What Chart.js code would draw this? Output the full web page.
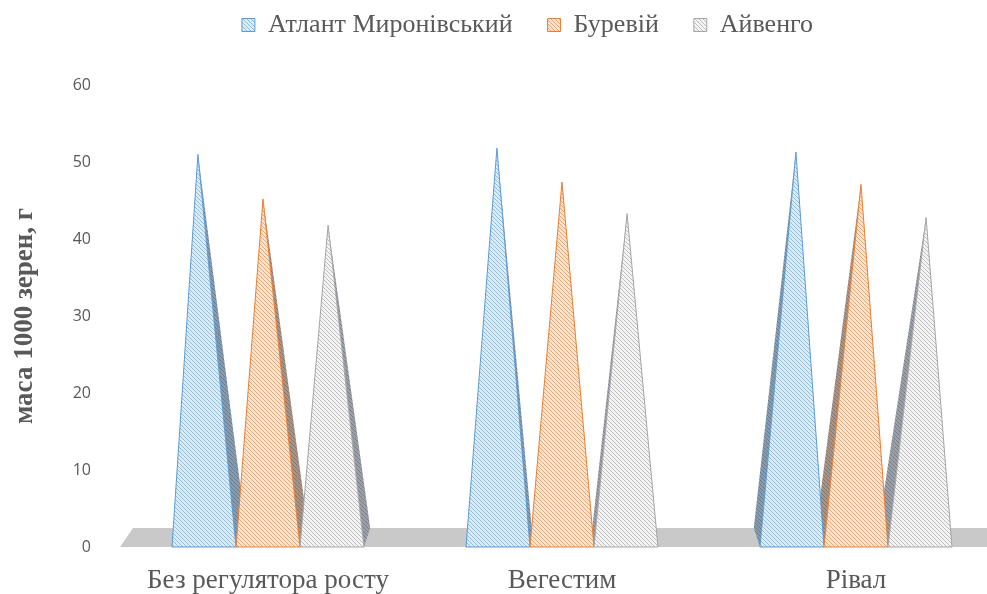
<!DOCTYPE html>
<html>
<head>
<meta charset="utf-8">
<script src="https://cdn.jsdelivr.net/npm/chart.js@4"></script>
<style>
  html, body { margin: 0; padding: 0; background: #fff; overflow: hidden; }
  #wrap { width: 1003px; height: 594px; }
</style>
</head>
<body>
<div id="wrap"><canvas id="chart" width="1003" height="594"></canvas></div>
<script>
// ── Data ────────────────────────────────────────────────────────────

const categories = ['Без регулятора росту', 'Вегестим', 'Рівал'];
const seriesNames = ['Атлант Миронівський', 'Буревій', 'Айвенго'];
const atlantValues = [51.0, 51.8, 51.3];
const burevijValues = [45.2, 47.4, 47.1];
const aivengoValues = [41.8, 43.3, 42.8];
const yMin = 0;
const yMax = 60;
const yStep = 10;

// ── Hatched fills (Excel "wide downward diagonal" look) ────────────

function makeHatch(bg, fg) {
  const c = document.createElement('canvas');
  c.width = c.height = 4;
  const g = c.getContext('2d');
  g.fillStyle = bg;
  g.fillRect(0, 0, 4, 4);
  g.strokeStyle = fg;
  g.lineWidth = 1;
  g.beginPath();
  g.moveTo(-1, -1); g.lineTo(5, 5);
  g.moveTo(-1, 3); g.lineTo(1, 5);
  g.moveTo(3, -1); g.lineTo(5, 1);
  g.stroke();
  return g.createPattern(c, 'repeat');
}

const SERIES_STYLE = [
  { line: '#5b9bd5', fill: makeHatch('#d9ecf9', '#8dbde6') },
  { line: '#ed7d31', fill: makeHatch('#fde3cc', '#f2a56c') },
  { line: '#a5a5a5', fill: makeHatch('#f4f4f4', '#bdbdbd') },
];

// ── 3D pyramid drawing on top of the bar geometry ──────────────────

const FLOOR_DEPTH = 19;

const pyramidPlugin = {
  id: 'pyramids',
  afterLayout(chart) {
    // nudge the legend into the spot it has in the original
    const lg = chart.legend;
    lg.top -= 37; lg.bottom -= 37;
    lg.left += 26; lg.right += 26;
  },
  beforeDatasetsDraw(chart) {
    const ctx = chart.ctx;
    const area = chart.chartArea;
    const y0 = chart.scales.y.getPixelForValue(0);
    const mid = (area.left + area.right) / 2;

    ctx.save();
    // floor
    ctx.beginPath();
    ctx.moveTo(area.left - 1, y0);
    ctx.lineTo(area.left + 12, y0 - FLOOR_DEPTH);
    ctx.lineTo(area.right, y0 - FLOOR_DEPTH);
    ctx.lineTo(area.right, y0);
    ctx.closePath();
    ctx.fillStyle = '#c9c9c9';
    ctx.fill();

    const shapes = [];
    chart.data.datasets.forEach((ds, di) => {
      const meta = chart.getDatasetMeta(di);
      meta.data.forEach(bar => {
        const half = bar.width / 2;
        const cx = bar.x;
        shapes.push({
          style: SERIES_STYLE[di],
          left: cx - half,
          right: cx + half,
          apexX: cx + (cx - mid) * 0.017,
          apexY: bar.y,
          side: (mid - cx) * 0.027,
        });
      });
    });

    // side faces first, fronts cover them
    shapes.forEach(s => {
      if (Math.abs(s.side) < 1.5) return;
      const corner = s.side > 0 ? s.right : s.left;
      ctx.beginPath();
      ctx.moveTo(s.apexX, s.apexY);
      ctx.lineTo(corner, y0);
      ctx.lineTo(corner + s.side, y0 - FLOOR_DEPTH);
      ctx.closePath();
      ctx.fillStyle = s.style.fill;
      ctx.fill();
      ctx.fillStyle = 'rgba(30,40,60,0.42)';
      ctx.fill();
    });

    shapes.forEach(s => {
      ctx.beginPath();
      ctx.moveTo(s.left, y0);
      ctx.lineTo(s.apexX, s.apexY);
      ctx.lineTo(s.right, y0);
      ctx.closePath();
      ctx.fillStyle = s.style.fill;
      ctx.fill();
      ctx.lineWidth = 1;
      ctx.strokeStyle = s.style.line;
      ctx.stroke();
    });
    ctx.restore();
    return false;
  }
};

// ── Chart ───────────────────────────────────────────────────────────

Chart.defaults.color = '#595959';
Chart.defaults.font.family = '"Liberation Serif", "Times New Roman", serif';

const datasets = [atlantValues, burevijValues, aivengoValues].map((vals, i) => ({
  label: seriesNames[i],
  data: vals,
  backgroundColor: SERIES_STYLE[i].fill,
  borderColor: SERIES_STYLE[i].line,
  borderWidth: 1,
  barPercentage: 1.0,
  categoryPercentage: 0.653,
}));

new Chart(document.getElementById('chart'), {
  type: 'bar',
  data: { labels: categories, datasets },
  plugins: [pyramidPlugin],
  options: {
    responsive: false,
    animation: false,
    devicePixelRatio: 1,
    layout: { padding: { top: 14, left: 0, right: 0, bottom: 0 } },
    plugins: {
      tooltip: { enabled: false },
      legend: {
        position: 'top',
        maxHeight: 72,
        labels: {
          boxWidth: 13,
          boxHeight: 13,
          padding: 35,
          color: '#595959',
          font: { size: 26 },
        },
      },
    },
    scales: {
      x: {
        grid: { display: false, drawTicks: false },
        border: { display: false },
        ticks: { padding: 18, color: '#595959', font: { size: 27 } },
        afterFit: s => { s.height = 47; },
      },
      y: {
        min: yMin,
        max: yMax,
        grid: { display: false, drawTicks: false },
        border: { display: false },
        ticks: {
          stepSize: yStep,
          padding: 30,
          color: '#595959',
          font: { family: '"Open Sans", sans-serif', size: 16 },
        },
        title: {
          display: true,
          text: 'маса 1000 зерен, г',
          color: '#595959',
          padding: { top: 9, bottom: 0 },
          font: { size: 27, weight: 'bold' },
        },
        afterFit: s => { s.width = 121; },
      },
    },
  },
});
</script>
</body>
</html>
